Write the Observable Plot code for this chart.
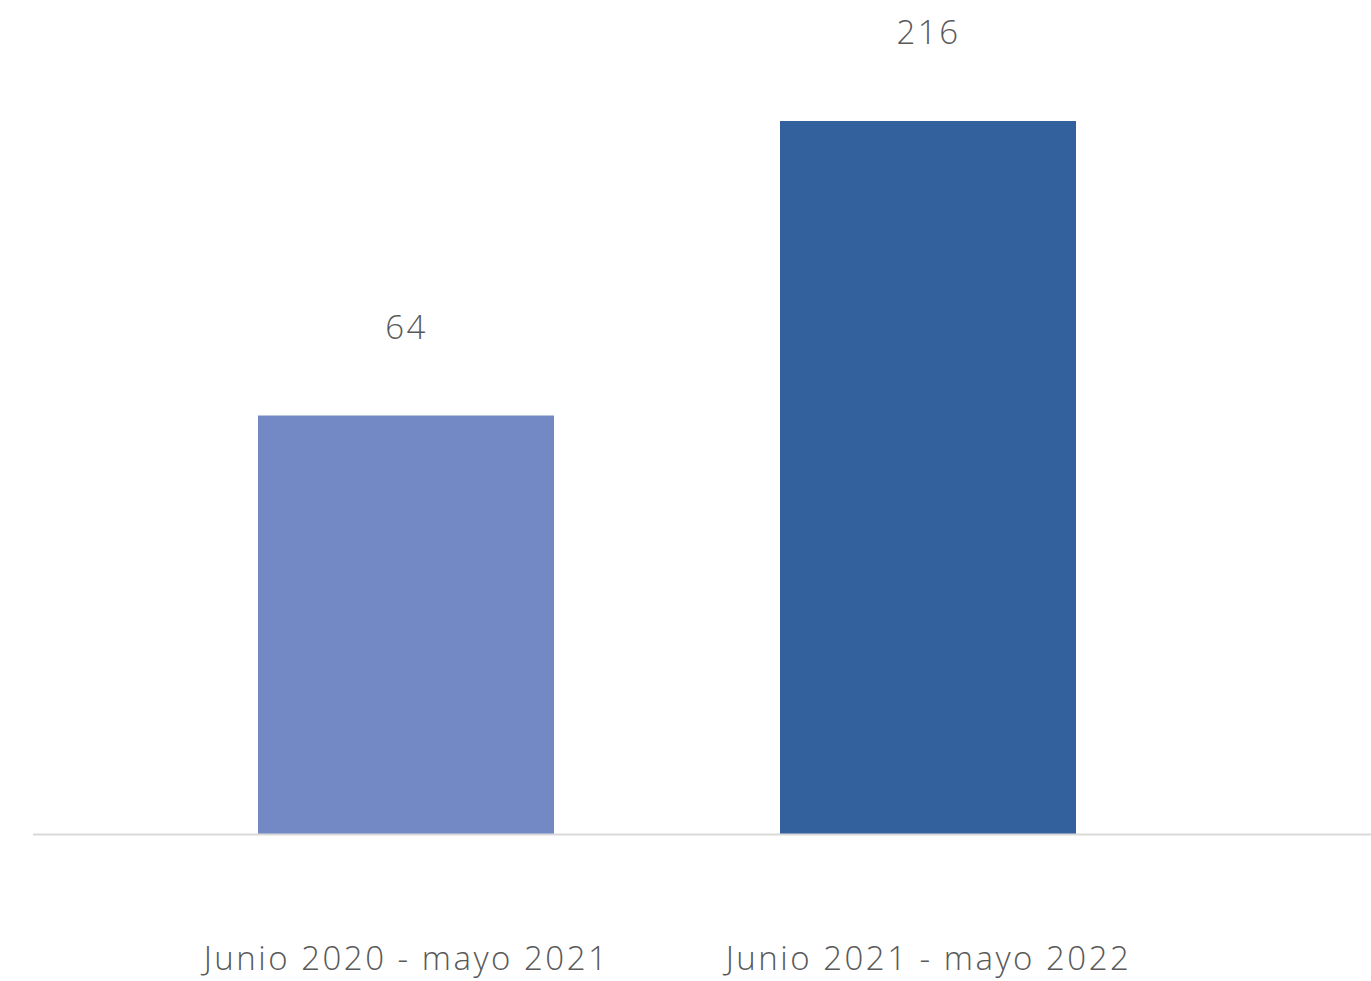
<!DOCTYPE html>
<html>
<head>
<meta charset="utf-8">
<script src="https://cdn.jsdelivr.net/npm/d3@7"></script>
<script src="https://cdn.jsdelivr.net/npm/@observablehq/plot@0.6"></script>
<style>
  html, body { margin: 0; padding: 0; background: #ffffff; }
  #chart svg { display: block; }
  #chart svg text { letter-spacing: 2.5px; }
</style>
</head>
<body>
<div id="chart"></div>
<script>
const categories = ["Junio 2020 - mayo 2021", "Junio 2021 - mayo 2022"];
const values = [64, 216];
const colors = ["#7289c5", "#33619d"];
// Scale of the original chart (the axis baseline sits below zero in the source)
const yBaseline = -152;

const data = categories.map((c, i) => ({ category: c, value: values[i], color: colors[i], base: yBaseline }));

const chart = Plot.plot({
  width: 1371,
  height: 981,
  marginLeft: 33,
  marginRight: 0,
  marginTop: 121,
  marginBottom: 147,
  style: { fontFamily: "'Open Sans', 'Noto Sans', sans-serif", background: "#ffffff", color: "#595959" },
  x: { domain: categories, range: [145, 1189], paddingInner: 0.433, paddingOuter: 0.2165, label: null },
  y: { domain: [yBaseline, 216], axis: null },
  marks: [
    Plot.barY(data, { x: "category", y1: "base", y2: "value", fill: "color" }),
    Plot.ruleY([yBaseline], { stroke: "#d9d9d9", strokeWidth: 2 }),
    Plot.text(data, { x: "category", y: "value", text: d => String(d.value), dy: -88, fontSize: 33, fill: "#595959", fontWeight: 300 }),
    Plot.axisX({ tickSize: 0, tickPadding: 112, fontSize: 33, fill: "#595959", fontWeight: 300, label: null })
  ]
});
document.getElementById("chart").appendChild(chart);
</script>
</body>
</html>
